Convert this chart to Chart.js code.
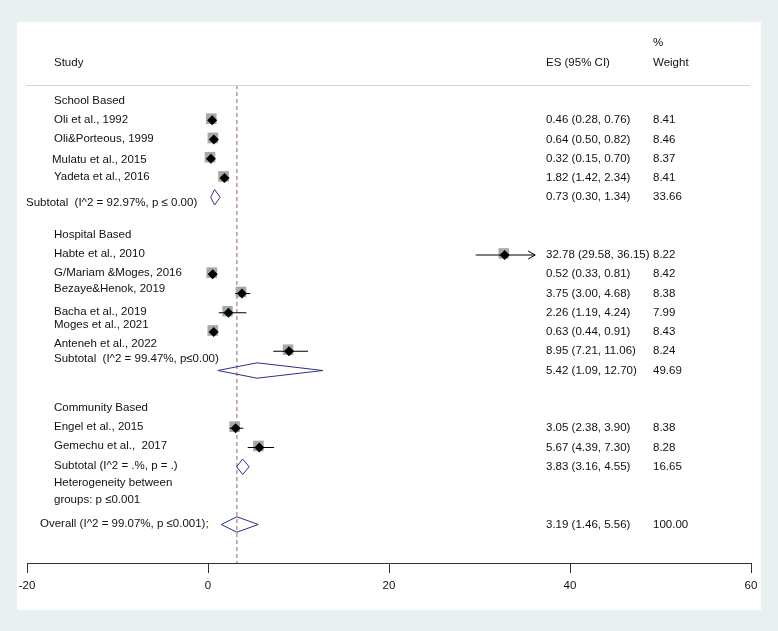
<!DOCTYPE html>
<html>
<head>
<meta charset="utf-8">
<script src="https://cdn.jsdelivr.net/npm/chart.js@4.4.1/dist/chart.umd.min.js"></script>
<style>
  body { margin: 0; background: #e8f0f2; }
  #panel { position: absolute; left: 17px; top: 22px; width: 744px; height: 588px; background: #fff; }
  #forest { position: absolute; left: 0; top: 0; }
</style>
</head>
<body>
<div id="panel"></div>
<canvas id="forest" width="778" height="631"></canvas>
<script>
// individual studies
const studyLabels = ['Oli et al., 1992', 'Oli&Porteous, 1999', 'Mulatu et al., 2015', 'Yadeta et al., 2016',
    'Habte et al., 2010', 'G/Mariam &Moges, 2016', 'Bezaye&Henok, 2019', 'Bacha et al., 2019',
    'Moges et al., 2021', 'Anteneh et al., 2022', 'Engel et al., 2015', 'Gemechu et al.,  2017'];
const studyES = [0.46, 0.64, 0.32, 1.82, 32.78, 0.52, 3.75, 2.26, 0.63, 8.95, 3.05, 5.67];
const studyLo = [0.28, 0.50, 0.15, 1.42, 29.58, 0.33, 3.00, 1.19, 0.44, 7.21, 2.38, 4.39];
const studyHi = [0.76, 0.82, 0.70, 2.34, 36.15, 0.81, 4.68, 4.24, 0.91, 11.06, 3.90, 7.30];
const studyWeight = [8.41, 8.46, 8.37, 8.41, 8.22, 8.42, 8.38, 7.99, 8.43, 8.24, 8.38, 8.28];

// subtotals and overall
const summaryLabels = ['Subtotal  (I^2 = 92.97%, p \u2264 0.00)', 'Subtotal  (I^2 = 99.47%, p\u22640.00)',
    'Subtotal (I^2 = .%, p = .)', 'Overall (I^2 = 99.07%, p \u22640.001);'];
const summaryES = [0.73, 5.42, 3.83, 3.19];
const summaryLo = [0.30, 1.09, 3.16, 1.46];
const summaryHi = [1.34, 12.70, 4.55, 5.56];
const summaryWeight = [33.66, 49.69, 16.65, 100.00];

const groupLabels = ['School Based', 'Hospital Based', 'Community Based'];
const heteroLines = ['Heterogeneity between', 'groups: p \u22640.001'];
const xTicks = [-20, 0, 20, 40, 60];

// row layout (row units on the y scale)
const studyRow = [0, 1, 2, 3, 7, 8, 9, 10, 11, 12, 16, 17];
const studyLabelRow = [0, 0.96, 2.05, 2.95, 6.95, 7.95, 8.77, 9.96, 10.64, 11.62, 15.93, 16.92];
const summaryRow = [4, 13, 18, 21];
const summaryLabelRow = [4.3, 12.4, 17.96, 20.97];
const summaryLabelX = [26, 54, 54, 40];
const groupRow = [-1.03, 5.96, 14.95];
const heteroRow = [18.84, 19.73];

const FONT = '11.5px "Liberation Sans", Arial, Helvetica, sans-serif';
const diamondHalf = 0.4;

const datasets = [];

// reference line at overall estimate
datasets.push({
    type: 'line',
    data: [{ x: summaryES[3], y: -1.83 }, { x: summaryES[3], y: 23 }],
    borderColor: '#b8969d',
    borderWidth: 1.5,
    borderDash: [4, 3],
    pointRadius: 0,
    order: 6,
});

// weight boxes
datasets.push({
    type: 'scatter',
    data: studyES.map((v, i) => ({ x: v - 0.1, y: studyRow[i] - 0.08 })),
    pointStyle: 'rect',
    pointRadius: studyWeight.map(w => 2.6 * Math.sqrt(w)),
    backgroundColor: '#a8a8a8',
    borderWidth: 0,
    order: 5,
});

// confidence intervals
studyES.forEach((v, i) => {
    datasets.push({
        type: 'line',
        data: [{ x: studyLo[i], y: studyRow[i] }, { x: studyHi[i], y: studyRow[i] }],
        borderColor: '#000',
        borderWidth: 1,
        pointRadius: 0,
        order: 4,
    });
});

// summary diamonds
summaryES.forEach((v, i) => {
    const r = summaryRow[i];
    datasets.push({
        type: 'line',
        data: [
            { x: summaryLo[i], y: r },
            { x: v, y: r - diamondHalf },
            { x: summaryHi[i], y: r },
            { x: v, y: r + diamondHalf },
            { x: summaryLo[i], y: r },
        ],
        borderColor: '#2e2e8a',
        borderWidth: 1,
        pointRadius: 0,
        fill: false,
        order: 3,
    });
});

// point estimates
datasets.push({
    type: 'scatter',
    data: studyES.map((v, i) => ({ x: v, y: studyRow[i] })),
    pointStyle: 'rectRot',
    pointRadius: 5,
    backgroundColor: '#000',
    borderWidth: 0,
    order: 1,
});

const textPlugin = {
    id: 'forestText',
    afterDatasetsDraw(chart) {
        const ctx = chart.ctx;
        const xs = chart.scales.x;
        const ys = chart.scales.y;
        const py = r => ys.getPixelForValue(r);
        ctx.save();

        // header rule
        ctx.strokeStyle = '#d4d4d4';
        ctx.lineWidth = 1;
        ctx.beginPath();
        ctx.moveTo(26, Math.round(py(-1.83)) + 0.5);
        ctx.lineTo(750, Math.round(py(-1.83)) + 0.5);
        ctx.stroke();

        // arrow on truncated CI (Habte)
        const ai = 4;
        const ax = xs.getPixelForValue(studyHi[ai]);
        const ay = py(studyRow[ai]);
        ctx.strokeStyle = '#000';
        ctx.beginPath();
        ctx.moveTo(ax - 7, ay - 4);
        ctx.lineTo(ax, ay);
        ctx.lineTo(ax - 7, ay + 4);
        ctx.stroke();

        ctx.font = FONT;
        ctx.fillStyle = '#111';
        ctx.textBaseline = 'middle';
        ctx.textAlign = 'left';

        ctx.fillText('Study', 54, py(-3));
        ctx.fillText('ES (95% CI)', 546, py(-3));
        ctx.fillText('%', 653, py(-4));
        ctx.fillText('Weight', 653, py(-3));

        groupLabels.forEach((t, i) => ctx.fillText(t, 54, py(groupRow[i])));
        studyLabels.forEach((t, i) => ctx.fillText(t, i === 2 ? 52 : 54, py(studyLabelRow[i])));
        summaryLabels.forEach((t, i) => ctx.fillText(t, summaryLabelX[i], py(summaryLabelRow[i])));
        heteroLines.forEach((t, i) => ctx.fillText(t, 54, py(heteroRow[i])));

        const ci = (e, l, h) => `${e.toFixed(2)} (${l.toFixed(2)}, ${h.toFixed(2)})`;
        studyES.forEach((v, i) => {
            ctx.fillText(ci(v, studyLo[i], studyHi[i]), 546, py(studyRow[i]));
            ctx.fillText(studyWeight[i].toFixed(2), 653, py(studyRow[i]));
        });
        summaryES.forEach((v, i) => {
            ctx.fillText(ci(v, summaryLo[i], summaryHi[i]), 546, py(summaryRow[i]));
            ctx.fillText(summaryWeight[i].toFixed(2), 653, py(summaryRow[i]));
        });
        ctx.restore();
    },
};

new Chart(document.getElementById('forest'), {
    type: 'scatter',
    data: { datasets },
    options: {
        responsive: false,
        animation: false,
        layout: { padding: { left: 27, right: 27, top: 24, bottom: 0 } },
        plugins: { legend: { display: false }, tooltip: { enabled: false } },
        scales: {
            x: {
                type: 'linear',
                min: -20,
                max: 60,
                afterFit: s => { s.height = 68; },
                afterBuildTicks: s => { s.ticks = xTicks.map(v => ({ value: v })); },
                ticks: { color: '#111', font: { size: 11.5, family: '"Liberation Sans", Arial, sans-serif' }, padding: 6 },
                grid: { drawOnChartArea: false, drawTicks: true, tickLength: 10, tickColor: '#333' },
                border: { color: '#333', width: 1 },
            },
            y: {
                type: 'linear',
                min: -5,
                max: 23,
                reverse: true,
                display: false,
            },
        },
    },
    plugins: [textPlugin],
});
</script>
</body>
</html>
